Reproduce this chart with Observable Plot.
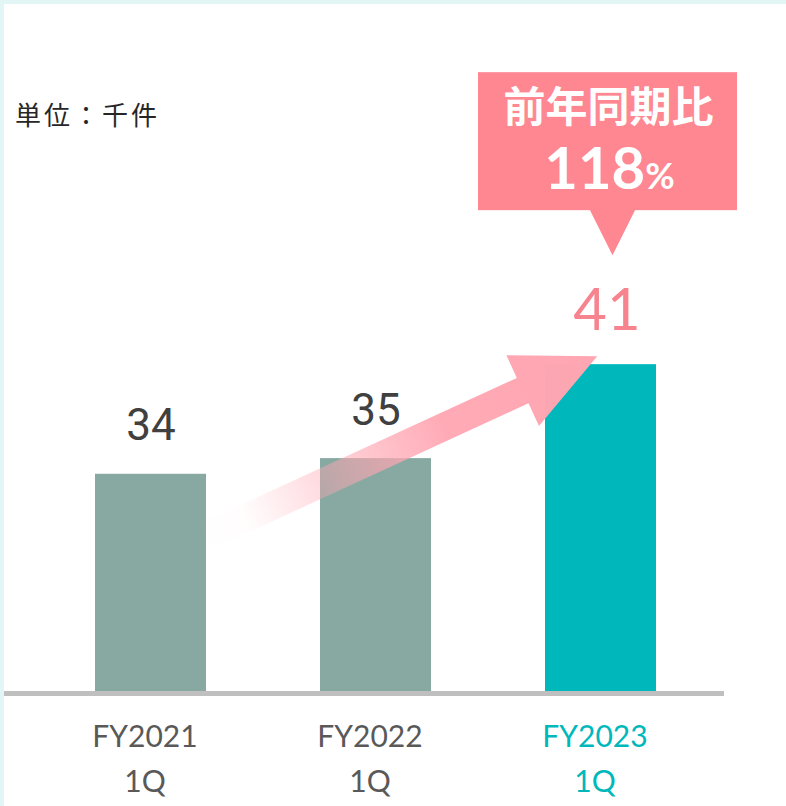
<!DOCTYPE html>
<html><head><meta charset="utf-8">
<script src="https://cdn.jsdelivr.net/npm/d3@7"></script>
<script src="https://cdn.jsdelivr.net/npm/@observablehq/plot@0.6"></script>
<style>
html,body{margin:0;padding:0;background:#fff;}
#wrap{width:782px;height:802px;border-top:4px solid #e2f6f6;border-left:4px solid #e2f6f6;overflow:hidden;}
#wrap svg{display:block;}
</style></head><body><div id="wrap"></div>
<script>
// ---- data ----
const categories = ["FY2021\n1Q", "FY2022\n1Q", "FY2023\n1Q"];
const values = [34, 35, 41];
const unitLabel = "単位：千件";
const calloutTitle = "前年同期比";
const calloutValue = "118";
const calloutUnit = "%";
const yDomain = [20, 64];
const arrowLevels = [29.8, 41.5]; // tail (FY2021) and tip (FY2023) levels of the trend arrow

// ---- styles ----
const GRAY = "#88a9a2", TEAL = "#00b8bb", PINK = "#ff8792", PINK_LABEL = "#f7838f", ARROW = "#ffa6b2";
const LABEL = "#595959", VALUE = "#404040";

const data = categories.map((c, i) => ({category: c, value: values[i], highlight: i === categories.length - 1}));
const base = data.filter(d => !d.highlight);
const hi = data.filter(d => d.highlight);

function annotations(index, scales, values_, dimensions) {
  const {x, y} = scales;
  const bw = x.bandwidth();
  const g = d3.create("svg:g");
  // unit caption
  g.append("text").attr("x", (dimensions ? dimensions.marginLeft : 0) + 11).attr("y", 121)
    .attr("text-anchor", "start")
    .attr("fill", "#262626").attr("font-family", "'Noto Sans CJK JP'").attr("font-weight", 400)
    .attr("font-size", 26).attr("letter-spacing", 3).text(unitLabel);
  // trend arrow
  const tail = [x(categories[0]) + bw * 0.937, y(arrowLevels[0])];
  const tip = [x(categories[categories.length - 1]) + bw * 0.47, y(arrowLevels[1])];
  const dx = tip[0] - tail[0], dy = tip[1] - tail[1], L = Math.hypot(dx, dy);
  const u = [dx / L, dy / L], n = [-u[1], u[0]];
  const sw = 14, hw = 39, hl = 82;
  const b = [tip[0] - u[0] * hl, tip[1] - u[1] * hl];
  const P = (p, k) => [p[0] + n[0] * k, p[1] + n[1] * k];
  const pts = [P(tail, sw), P(b, sw), P(b, hw), tip, P(b, -hw), P(b, -sw), P(tail, -sw)];
  const grad = g.append("defs").append("linearGradient")
    .attr("id", "arrowGrad").attr("gradientUnits", "userSpaceOnUse")
    .attr("x1", tail[0]).attr("y1", tail[1]).attr("x2", tip[0]).attr("y2", tip[1]);
  [[0, 0], [0.12, 0.03], [0.35, 0.5], [0.62, 0.95], [1, 1]].forEach(([o, op]) =>
    grad.append("stop").attr("offset", o).attr("stop-color", ARROW).attr("stop-opacity", op));
  g.append("polygon").attr("points", pts.map(p => p.join(",")).join(" ")).attr("fill", "url(#arrowGrad)");

  // callout
  const barC = x(categories[categories.length - 1]) + bw / 2;
  const cx = barC + 7, tipX = barC + 12, tipY = y(values[values.length - 1]) - 109;
  const bottom = tipY - 45, top = bottom - 138, w = 259;
  g.append("rect").attr("x", cx - w / 2).attr("y", top).attr("width", w).attr("height", bottom - top).attr("fill", PINK);
  g.append("polygon").attr("points", `${tipX - 23},${bottom - 1} ${tipX + 23},${bottom - 1} ${tipX},${tipY}`).attr("fill", PINK);
  g.append("text").attr("x", cx + 1).attr("y", top + 50).attr("text-anchor", "middle")
    .attr("fill", "#fff").attr("font-family", "'Noto Sans CJK JP'").attr("font-weight", 700)
    .attr("font-size", 42).text(calloutTitle);
  const t = g.append("text").attr("x", cx + 2).attr("y", top + 117).attr("text-anchor", "middle")
    .attr("fill", "#fff").attr("font-family", "Lato").attr("font-weight", 700);
  t.append("tspan").attr("font-size", 58).text(calloutValue);
  t.append("tspan").attr("font-size", 36).text(calloutUnit);
  return g.node();
}

const chart = Plot.plot({
  width: 782, height: 802,
  marginLeft: 0, marginRight: 62, marginTop: 0, marginBottom: 113,
  x: {domain: categories, paddingInner: 0.508, paddingOuter: 0.35, align: 0.57, axis: null},
  y: {domain: yDomain, axis: null},
  style: {background: "#fff", overflow: "visible"},
  marks: [
    Plot.barY(base, {x: "category", y1: yDomain[0], y2: "value", fill: GRAY}),
    Plot.barY(hi, {x: "category", y1: yDomain[0], y2: "value", fill: TEAL}),
    Plot.ruleY([yDomain[0]], {stroke: "#bfbfbf", strokeWidth: 5}),
    annotations,
    Plot.text(base, {x: "category", y: "value", text: d => String(d.value), lineAnchor: "bottom", dy: -34,
      fontSize: 44, fill: VALUE, fontFamily: "Roboto"}),
    Plot.text(hi, {x: "category", y: "value", text: d => String(d.value), lineAnchor: "bottom", dy: -35, dx: 6,
      fontSize: 58, fill: PINK_LABEL, fontFamily: "Lato"}),
    Plot.text(base, {x: "category", text: "category", frameAnchor: "bottom", lineAnchor: "bottom", dy: 98, dx: -6,
      lineHeight: 1.5, fontSize: 30, fill: LABEL, fontFamily: "Lato"}),
    Plot.text(hi, {x: "category", text: "category", frameAnchor: "bottom", lineAnchor: "bottom", dy: 98, dx: -6,
      lineHeight: 1.5, fontSize: 30, fill: TEAL, fontFamily: "Lato"})
  ]
});
document.getElementById("wrap").appendChild(chart);
</script></body></html>
